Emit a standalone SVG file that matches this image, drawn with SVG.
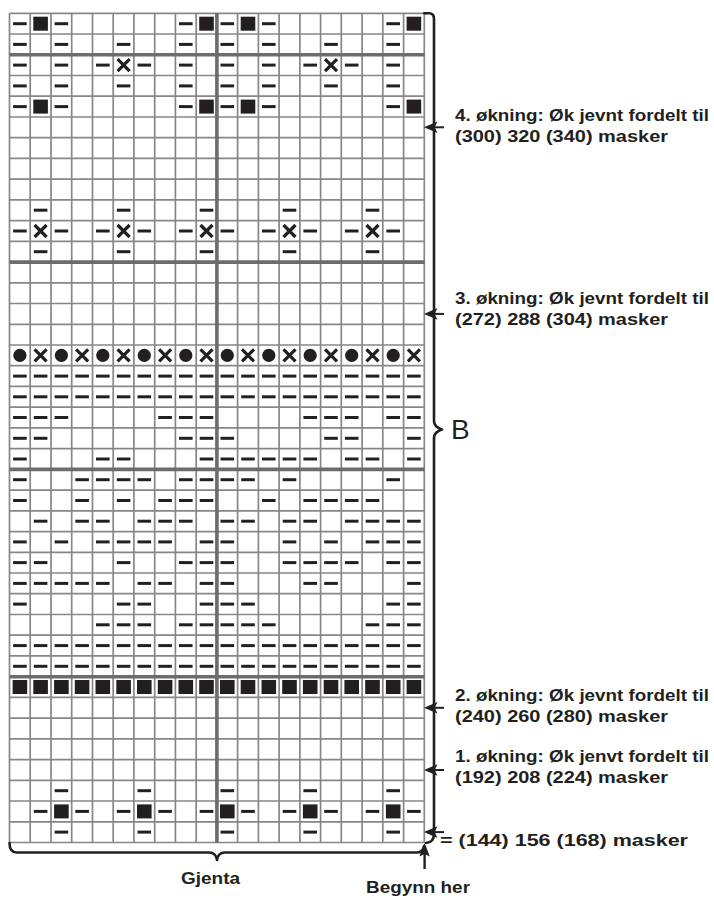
<svg xmlns="http://www.w3.org/2000/svg" xmlns:xlink="http://www.w3.org/1999/xlink" width="714" height="900" viewBox="0 0 714 900">
<style>
.thin{stroke:#878787;stroke-width:1.7;fill:none}
.thick{stroke:#6c6c6c;stroke-width:3.6;fill:none}
.sym{fill:#231f20}
.ln{stroke:#231f20;stroke-width:2.6;fill:none;stroke-linecap:round;stroke-linejoin:round}
.t{font-family:"Liberation Sans",Arial,sans-serif;font-weight:bold;font-size:16.8px;fill:#231f20}
.b{font-family:"Liberation Sans",Arial,sans-serif;font-size:28px;fill:#231f20}
</style>
<defs>
<path id="d" d="M-6.8-1.5h13.6v3h-13.6z" fill="#231f20"/>
<path id="s" d="M-7.3-7h14.6v14h-14.6z" fill="#231f20"/>
<path id="x" d="M-6-6L6 6M6-6L-6 6" stroke="#231f20" stroke-width="3.2" fill="none"/>
<circle id="o" r="6.6" fill="#231f20"/>
<g id="R">
<use href="#d" x="19.9"/><use href="#d" x="40.6"/><use href="#d" x="61.4"/><use href="#d" x="82.1"/><use href="#d" x="102.8"/><use href="#d" x="123.6"/><use href="#d" x="144.3"/><use href="#d" x="165.1"/><use href="#d" x="185.8"/><use href="#d" x="206.5"/><use href="#d" x="227.3"/><use href="#d" x="248"/><use href="#d" x="268.8"/><use href="#d" x="289.5"/><use href="#d" x="310.2"/><use href="#d" x="331"/><use href="#d" x="351.7"/><use href="#d" x="372.5"/><use href="#d" x="393.2"/><use href="#d" x="413.9"/>
</g>
<g id="S">
<use href="#s" x="19.9"/><use href="#s" x="40.6"/><use href="#s" x="61.4"/><use href="#s" x="82.1"/><use href="#s" x="102.8"/><use href="#s" x="123.6"/><use href="#s" x="144.3"/><use href="#s" x="165.1"/><use href="#s" x="185.8"/><use href="#s" x="206.5"/><use href="#s" x="227.3"/><use href="#s" x="248"/><use href="#s" x="268.8"/><use href="#s" x="289.5"/><use href="#s" x="310.2"/><use href="#s" x="331"/><use href="#s" x="351.7"/><use href="#s" x="372.5"/><use href="#s" x="393.2"/><use href="#s" x="413.9"/>
</g>
<g id="r0">
<use href="#d" x="19.9"/><use href="#s" x="40.6"/><use href="#d" x="61.4"/><use href="#d" x="185.8"/><use href="#s" x="206.5"/><use href="#d" x="227.3"/><use href="#s" x="248"/><use href="#d" x="268.8"/><use href="#d" x="393.2"/><use href="#s" x="413.9"/>
</g>
<g id="r1">
<use href="#d" x="19.9"/><use href="#d" x="61.4"/><use href="#d" x="123.6"/><use href="#d" x="185.8"/><use href="#d" x="227.3"/><use href="#d" x="268.8"/><use href="#d" x="331"/><use href="#d" x="393.2"/>
</g>
<g id="r9">
<use href="#d" x="40.6"/><use href="#d" x="123.6"/><use href="#d" x="206.5"/><use href="#d" x="289.5"/><use href="#d" x="372.5"/>
</g>
<g id="r37">
<use href="#d" x="61.4"/><use href="#d" x="144.3"/><use href="#d" x="227.3"/><use href="#d" x="310.2"/><use href="#d" x="393.2"/>
</g>
<g id="ar">
<path d="M0 0L13.5-5.8L10.5 0L13.5 5.8Z" fill="#231f20"/>
<path d="M9 0H20" stroke="#231f20" stroke-width="2"/>
</g>
</defs>
<rect width="714" height="900" fill="#ffffff"/>

<g id="grid">
<path class="thin" d="M9.5 13.3V842.5M30.2 13.3V842.5M51 13.3V842.5M71.7 13.3V842.5M92.5 13.3V842.5M113.2 13.3V842.5M133.9 13.3V842.5M154.7 13.3V842.5M175.4 13.3V842.5M196.2 13.3V842.5M237.6 13.3V842.5M258.4 13.3V842.5M279.1 13.3V842.5M299.9 13.3V842.5M320.6 13.3V842.5M341.3 13.3V842.5M362.1 13.3V842.5M382.8 13.3V842.5M403.6 13.3V842.5M424.3 13.3V842.5"/>
<path class="thin" d="M9.5 13.3H424.3M9.5 34H424.3M9.5 75.5H424.3M9.5 96.2H424.3M9.5 117H424.3M9.5 137.7H424.3M9.5 158.4H424.3M9.5 179.1H424.3M9.5 199.9H424.3M9.5 220.6H424.3M9.5 241.3H424.3M9.5 282.8H424.3M9.5 303.5H424.3M9.5 324.3H424.3M9.5 345H424.3M9.5 365.7H424.3M9.5 386.4H424.3M9.5 407.2H424.3M9.5 427.9H424.3M9.5 448.6H424.3M9.5 490.1H424.3M9.5 510.8H424.3M9.5 531.6H424.3M9.5 552.3H424.3M9.5 573H424.3M9.5 593.7H424.3M9.5 614.5H424.3M9.5 635.2H424.3M9.5 655.9H424.3M9.5 697.4H424.3M9.5 718.1H424.3M9.5 738.9H424.3M9.5 759.6H424.3M9.5 780.3H424.3M9.5 801H424.3M9.5 821.8H424.3M9.5 842.5H424.3"/>
<path class="thick" d="M216.9 13.3V842.5M9.5 54.8H424.3M9.5 262.1H424.3M9.5 469.4H424.3M9.5 676.7H424.3"/>
</g>

<g id="symbols">
<use href="#r0" y="23.7"/>
<use href="#r1" y="44.4"/>
<g transform="translate(0,65.1)">
<use href="#d" x="19.9"/><use href="#d" x="61.4"/><use href="#d" x="102.8"/><use href="#x" x="123.6"/><use href="#d" x="144.3"/><use href="#d" x="185.8"/><use href="#d" x="227.3"/><use href="#d" x="268.8"/><use href="#d" x="310.2"/><use href="#x" x="331"/><use href="#d" x="351.7"/><use href="#d" x="393.2"/>
</g>
<use href="#r1" y="85.9"/>
<use href="#r0" y="106.6"/>
<use href="#r9" y="210.2"/>
<g transform="translate(0,231)">
<use href="#d" x="19.9"/><use href="#x" x="40.6"/><use href="#d" x="61.4"/><use href="#d" x="102.8"/><use href="#x" x="123.6"/><use href="#d" x="144.3"/><use href="#d" x="185.8"/><use href="#x" x="206.5"/><use href="#d" x="227.3"/><use href="#d" x="268.8"/><use href="#x" x="289.5"/><use href="#d" x="310.2"/><use href="#d" x="351.7"/><use href="#x" x="372.5"/><use href="#d" x="393.2"/>
</g>
<use href="#r9" y="251.7"/>
<g transform="translate(0,355.4)">
<use href="#o" x="19.9"/><use href="#x" x="40.6"/><use href="#o" x="61.4"/><use href="#x" x="82.1"/><use href="#o" x="102.8"/><use href="#x" x="123.6"/><use href="#o" x="144.3"/><use href="#x" x="165.1"/><use href="#o" x="185.8"/><use href="#x" x="206.5"/><use href="#o" x="227.3"/><use href="#x" x="248"/><use href="#o" x="268.8"/><use href="#x" x="289.5"/><use href="#o" x="310.2"/><use href="#x" x="331"/><use href="#o" x="351.7"/><use href="#x" x="372.5"/><use href="#o" x="393.2"/><use href="#x" x="413.9"/>
</g>
<use href="#R" y="376.1"/>
<use href="#R" y="396.8"/>
<g transform="translate(0,417.5)">
<use href="#d" x="19.9"/><use href="#d" x="40.6"/><use href="#d" x="61.4"/><use href="#d" x="165.1"/><use href="#d" x="185.8"/><use href="#d" x="206.5"/><use href="#d" x="310.2"/><use href="#d" x="331"/><use href="#d" x="351.7"/><use href="#d" x="393.2"/><use href="#d" x="413.9"/>
</g>
<g transform="translate(0,438.3)">
<use href="#d" x="19.9"/><use href="#d" x="40.6"/><use href="#d" x="185.8"/><use href="#d" x="206.5"/><use href="#d" x="227.3"/><use href="#d" x="331"/><use href="#d" x="351.7"/><use href="#d" x="413.9"/>
</g>
<g transform="translate(0,459)">
<use href="#d" x="19.9"/><use href="#d" x="102.8"/><use href="#d" x="123.6"/><use href="#d" x="206.5"/><use href="#d" x="227.3"/><use href="#d" x="248"/><use href="#d" x="268.8"/><use href="#d" x="289.5"/><use href="#d" x="310.2"/><use href="#d" x="351.7"/><use href="#d" x="372.5"/><use href="#d" x="413.9"/>
</g>
<g transform="translate(0,479.7)">
<use href="#d" x="19.9"/><use href="#d" x="82.1"/><use href="#d" x="102.8"/><use href="#d" x="123.6"/><use href="#d" x="144.3"/><use href="#d" x="185.8"/><use href="#d" x="206.5"/><use href="#d" x="227.3"/><use href="#d" x="248"/><use href="#d" x="289.5"/><use href="#d" x="393.2"/>
</g>
<g transform="translate(0,500.5)">
<use href="#d" x="19.9"/><use href="#d" x="82.1"/><use href="#d" x="123.6"/><use href="#d" x="165.1"/><use href="#d" x="185.8"/><use href="#d" x="206.5"/><use href="#d" x="268.8"/><use href="#d" x="310.2"/><use href="#d" x="331"/><use href="#d" x="351.7"/><use href="#d" x="372.5"/>
</g>
<g transform="translate(0,521.2)">
<use href="#d" x="40.6"/><use href="#d" x="82.1"/><use href="#d" x="102.8"/><use href="#d" x="144.3"/><use href="#d" x="165.1"/><use href="#d" x="185.8"/><use href="#d" x="227.3"/><use href="#d" x="248"/><use href="#d" x="289.5"/><use href="#d" x="310.2"/><use href="#d" x="351.7"/><use href="#d" x="372.5"/><use href="#d" x="393.2"/><use href="#d" x="413.9"/>
</g>
<g transform="translate(0,541.9)">
<use href="#d" x="19.9"/><use href="#d" x="61.4"/><use href="#d" x="102.8"/><use href="#d" x="123.6"/><use href="#d" x="144.3"/><use href="#d" x="165.1"/><use href="#d" x="206.5"/><use href="#d" x="227.3"/><use href="#d" x="289.5"/><use href="#d" x="331"/><use href="#d" x="372.5"/><use href="#d" x="393.2"/><use href="#d" x="413.9"/>
</g>
<g transform="translate(0,562.6)">
<use href="#d" x="19.9"/><use href="#d" x="40.6"/><use href="#d" x="123.6"/><use href="#d" x="185.8"/><use href="#d" x="206.5"/><use href="#d" x="227.3"/><use href="#d" x="289.5"/><use href="#d" x="310.2"/><use href="#d" x="331"/><use href="#d" x="351.7"/><use href="#d" x="393.2"/><use href="#d" x="413.9"/>
</g>
<g transform="translate(0,583.4)">
<use href="#d" x="19.9"/><use href="#d" x="40.6"/><use href="#d" x="61.4"/><use href="#d" x="82.1"/><use href="#d" x="102.8"/><use href="#d" x="144.3"/><use href="#d" x="165.1"/><use href="#d" x="206.5"/><use href="#d" x="227.3"/><use href="#d" x="310.2"/><use href="#d" x="331"/><use href="#d" x="413.9"/>
</g>
<g transform="translate(0,604.1)">
<use href="#d" x="19.9"/><use href="#d" x="123.6"/><use href="#d" x="144.3"/><use href="#d" x="206.5"/><use href="#d" x="227.3"/><use href="#d" x="248"/><use href="#d" x="393.2"/><use href="#d" x="413.9"/>
</g>
<g transform="translate(0,624.8)">
<use href="#d" x="102.8"/><use href="#d" x="123.6"/><use href="#d" x="144.3"/><use href="#d" x="185.8"/><use href="#d" x="206.5"/><use href="#d" x="227.3"/><use href="#d" x="248"/><use href="#d" x="268.8"/><use href="#d" x="372.5"/><use href="#d" x="393.2"/><use href="#d" x="413.9"/>
</g>
<use href="#R" y="645.6"/>
<use href="#R" y="666.3"/>
<use href="#S" y="687"/>
<use href="#r37" y="790.7"/>
<g transform="translate(0,811.4)">
<use href="#d" x="40.6"/><use href="#s" x="61.4"/><use href="#d" x="82.1"/><use href="#d" x="123.6"/><use href="#s" x="144.3"/><use href="#d" x="165.1"/><use href="#d" x="206.5"/><use href="#s" x="227.3"/><use href="#d" x="248"/><use href="#d" x="289.5"/><use href="#s" x="310.2"/><use href="#d" x="331"/><use href="#d" x="372.5"/><use href="#s" x="393.2"/><use href="#d" x="413.9"/>
</g>
<use href="#r37" y="832.1"/>
</g>

<g id="connectors">
<path class="ln" d="M424.3 13.3H429Q434 13.3 434 19V421Q434 427 442 429.5Q434 432 434 438V834Q434 842.5 426 843"/>
<use href="#ar" x="424" y="127.3"/>
<use href="#ar" x="424" y="313.9"/>
<use href="#ar" x="424" y="707.8"/>
<use href="#ar" x="424" y="770"/>
<use href="#ar" x="424" y="832.1"/>
<path class="ln" d="M9.5 843Q9.5 852.5 17 852.5H209Q216 852.5 217 860Q218 852.5 225 852.5H417Q423 852.5 424 846"/>
<path d="M424.6 869V853" stroke="#231f20" stroke-width="2.4"/>
<path d="M424.6 843L419.4 856.5L424.6 854L429.8 856.5Z" fill="#231f20"/>
</g>

<g id="labels">
<text class="t" x="455" y="120.7" textLength="254" lengthAdjust="spacingAndGlyphs">4. økning: Øk jevnt fordelt til</text>
<text class="t" x="455" y="141.5" textLength="213" lengthAdjust="spacingAndGlyphs">(300) 320 (340) masker</text>
<text class="t" x="455" y="303.8" textLength="254" lengthAdjust="spacingAndGlyphs">3. økning: Øk jevnt fordelt til</text>
<text class="t" x="455" y="324.6" textLength="213" lengthAdjust="spacingAndGlyphs">(272) 288 (304) masker</text>
<text class="b" x="451" y="439">B</text>
<text class="t" x="455" y="700.7" textLength="254" lengthAdjust="spacingAndGlyphs">2. økning: Øk jevnt fordelt til</text>
<text class="t" x="455" y="721.5" textLength="213" lengthAdjust="spacingAndGlyphs">(240) 260 (280) masker</text>
<text class="t" x="455" y="761.7" textLength="254" lengthAdjust="spacingAndGlyphs">1. økning: Øk jenvt fordelt til</text>
<text class="t" x="455" y="782.5" textLength="213" lengthAdjust="spacingAndGlyphs">(192) 208 (224) masker</text>
<text class="t" x="440" y="846" textLength="248" lengthAdjust="spacingAndGlyphs">= (144) 156 (168) masker</text>
<text class="t" x="181" y="884" textLength="59" lengthAdjust="spacingAndGlyphs">Gjenta</text>
<text class="t" x="366" y="893" textLength="104" lengthAdjust="spacingAndGlyphs">Begynn her</text>
</g>
</svg>
